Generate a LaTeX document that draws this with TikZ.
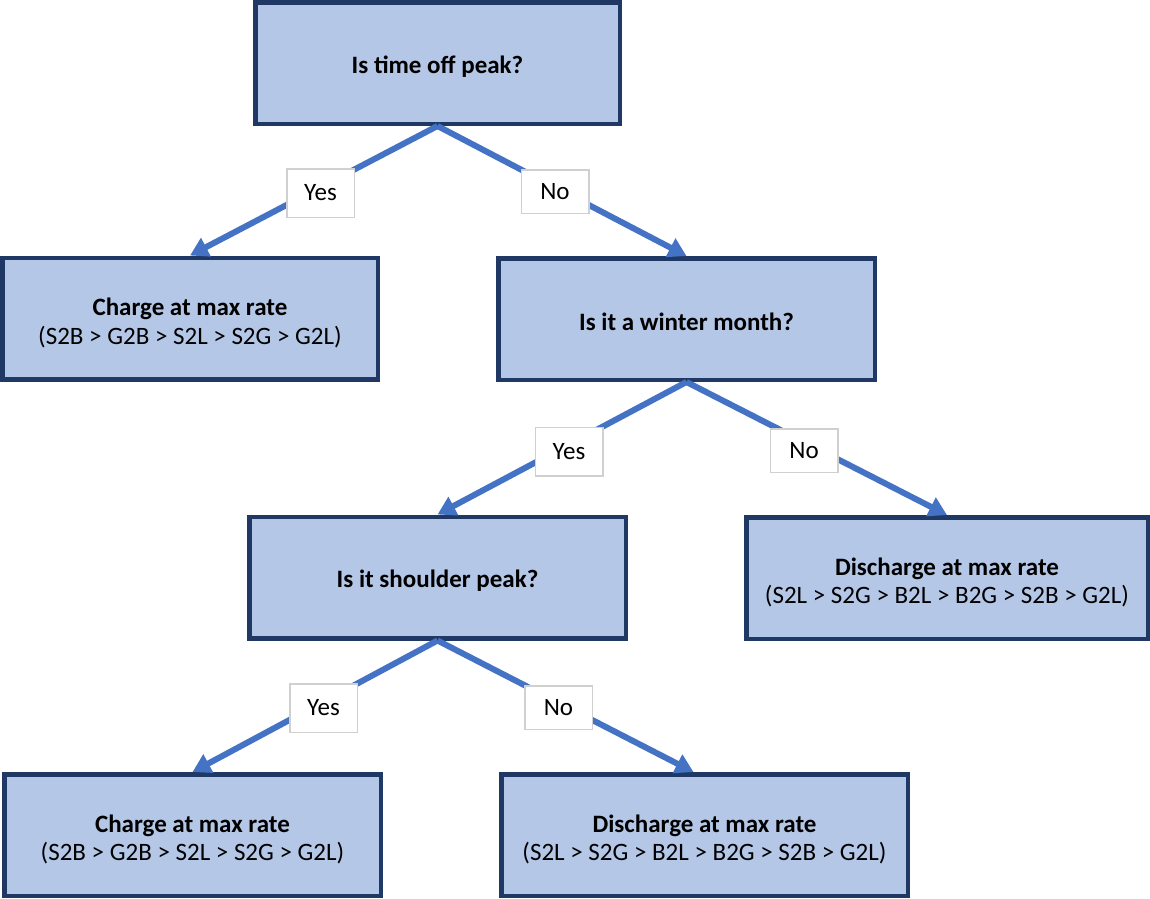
\documentclass[tikz,border=0pt]{standalone}
\usepackage{fontspec}
\setmainfont{Carlito}
\usetikzlibrary{arrows.meta,calc}

\definecolor{boxfill}{HTML}{B4C7E7}
\definecolor{boxline}{HTML}{203864}
\definecolor{linkblue}{HTML}{4472C4}
\definecolor{tagline}{HTML}{D0D0D0}

\tikzset{
  decision/.style={draw=boxline, line width=4.5pt, fill=boxfill,
    minimum height=121.5pt, inner sep=0pt, align=center,
    font=\fontsize{25}{28.5}\selectfont\bfseries},
  action/.style={decision, font=\fontsize{25}{28.5}\selectfont},
  link/.style={draw=linkblue, line width=6pt,
    -{Triangle[length=18pt,width=20pt]}},
  tag/.style={draw=tagline, line width=1.5pt, fill=white, inner sep=0pt,
    minimum width=67.5pt, font=\fontsize{25}{28}\selectfont},
  yestag/.style={tag, minimum height=48.5pt},
  notag/.style={tag, minimum height=43.5pt}
}
% strut that lowers the text a little inside its box
\newcommand{\boxstrut}[1]{\rule{0pt}{#1}}

\begin{document}
\begin{tikzpicture}[x=1pt, y=-1pt]
  \useasboundingbox (0,0) rectangle (1150,898);

  % decision and outcome boxes
  \node[decision, minimum width=364.5pt] (peak) at (437.5,63)
    {\boxstrut{24pt}Is time off peak?};
  \node[action, minimum width=375.5pt] (charge1) at (190,318.5)
    {\boxstrut{26pt}\textbf{Charge at max rate}\\(S2B > G2B > S2L > S2G > G2L)};
  \node[decision, minimum width=376.5pt] (winter) at (686.5,319)
    {\boxstrut{24pt}Is it a winter month?};
  \node[decision, minimum width=376.5pt] (shoulder) at (437.5,577.5)
    {\boxstrut{24pt}Is it shoulder peak?};
  \node[action, minimum width=401.5pt] (discharge1) at (947,578)
    {\boxstrut{26pt}\textbf{Discharge at max rate}\\(S2L > S2G > B2L > B2G > S2B > G2L)};
  \node[action, minimum width=376.5pt] (charge2) at (192.5,835)
    {\boxstrut{26pt}\textbf{Charge at max rate}\\(S2B > G2B > S2L > S2G > G2L)};
  \node[action, minimum width=406.5pt] (discharge2) at (704.5,835)
    {\boxstrut{26pt}\textbf{Discharge at max rate}\\(S2L > S2G > B2L > B2G > S2B > G2L)};

  % branches
  \draw[link] (peak.south) -- (charge1.north);
  \draw[link] (peak.south) -- (winter.north);
  \draw[link] (winter.south) -- (shoulder.north);
  \draw[link] (winter.south) -- (discharge1.north);
  \draw[link] (shoulder.south) -- (charge2.north);
  \draw[link] (shoulder.south) -- ($(discharge2.north)+(-11,0)$);

  % branch labels
  \node[yestag] (y1) at (320.5,193) {Yes};
  \node[notag]  (n1) at (555,191.5) {No};
  \node[yestag] (y2) at (569,451.5) {Yes};
  \node[notag]  (n2) at (804,450.5) {No};
  \node[yestag] (y3) at (323.5,708) {Yes};
  \node[notag]  (n3) at (558.5,707.5) {No};
\end{tikzpicture}
\end{document}
